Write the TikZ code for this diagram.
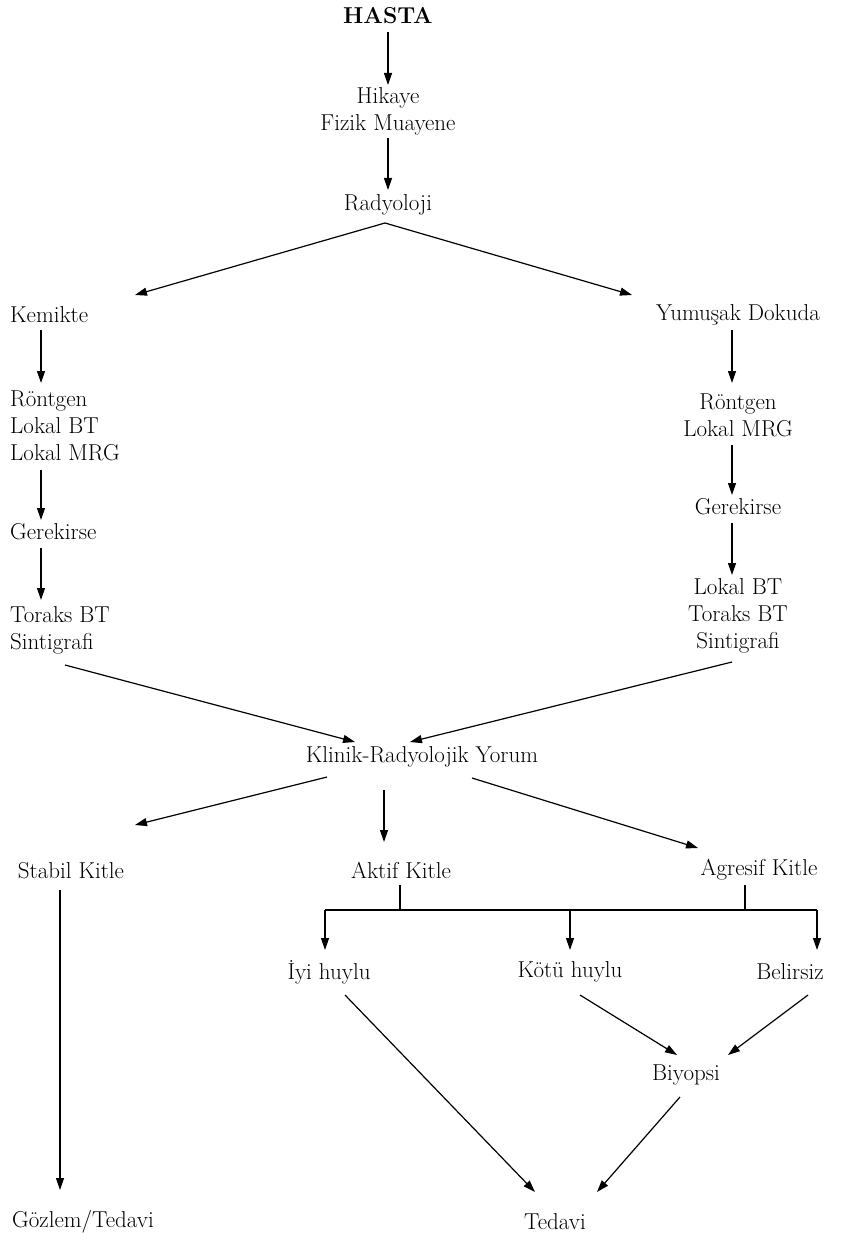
\documentclass[tikz,border=0pt]{standalone}
\usepackage{fontspec}
\usetikzlibrary{arrows.meta}

\begin{document}
\begin{tikzpicture}[
            x=1pt, y=-1pt,
            every node/.style={inner sep=0pt, font=\fontsize{23}{27}\selectfont},
            txt/.style={align=center},
            ltxt/.style={align=left, anchor=west},
            arrow/.style={-{Triangle[length=12pt, width=8pt]}, line width=1.2pt},
            line/.style={line width=1.2pt}
        ]
            \useasboundingbox (0,0) rectangle (847,1233);

            \node[font=\fontsize{23}{27}\selectfont\bfseries] (hasta) at (388,16) {HASTA};
            \node[txt] (hikaye) at (388,111) {Hikaye\\Fizik Muayene};
            \node[txt] (radyo) at (388,205) {Radyoloji};

            % kemik kolu
            \node[ltxt] (kemik) at (10,315) {Kemikte};
            \node[ltxt] (kRontgen) at (10,426) {Röntgen\\Lokal BT\\Lokal MRG};
            \node[ltxt] (kGerek) at (10,532) {Gerekirse};
            \node[ltxt] (kToraks) at (10,630) {Toraks BT\\Sintigrafi};

            % yumusak doku kolu
            \node[txt] (yumusak) at (738,315) {Yumuşak Dokuda};
            \node[txt] (yRontgen) at (738,415) {Röntgen\\Lokal MRG};
            \node[txt] (yGerek) at (738,507) {Gerekirse};
            \node[txt] (yLokal) at (738,616) {Lokal BT\\Toraks BT\\Sintigrafi};

            \node[txt] (yorum) at (422,757) {Klinik-Radyolojik Yorum};

            \node[txt] (stabil) at (71,871) {Stabil Kitle};
            \node[txt] (aktif) at (401,870) {Aktif Kitle};
            \node[txt] (agresif) at (759,870) {Agresif Kitle};

            \node[txt] (iyi) at (329,972) {İyi huylu};
            \node[txt] (kotu) at (570,972) {Kötü huylu};
            \node[txt] (belirsiz) at (790,972) {Belirsiz};

            \node[txt] (biyopsi) at (686,1075) {Biyopsi};

            \node[txt] (gozlem) at (83,1222) {Gözlem/Tedavi};
            \node[txt] (tedavi) at (555,1222) {Tedavi};

            \coordinate (br1) at (325,910);
            \coordinate (br2) at (817,910);

            \draw[arrow] ([shift={(0,16)}]hasta.center) -- ([shift={(0,-26)}]hikaye.center);
            \draw[arrow] ([shift={(0,27)}]hikaye.center) -- ([shift={(0,-15)}]radyo.center);
            \draw[arrow] ([shift={(-3,18)}]radyo.center) -- ([shift={(125,-20)}]kemik.west);
            \draw[arrow] ([shift={(-3,18)}]radyo.center) -- ([shift={(-106,-20)}]yumusak.center);

            \draw[arrow] ([shift={(31,15)}]kemik.west) -- ([shift={(31,-43)}]kRontgen.west);
            \draw[arrow] ([shift={(31,44)}]kRontgen.west) -- ([shift={(31,-12)}]kGerek.west);
            \draw[arrow] ([shift={(31,16)}]kGerek.west) -- ([shift={(31,-30)}]kToraks.west);

            \draw[arrow] ([shift={(-6,15)}]yumusak.center) -- ([shift={(-6,-32)}]yRontgen.center);
            \draw[arrow] ([shift={(-6,30)}]yRontgen.center) -- ([shift={(-6,-12)}]yGerek.center);
            \draw[arrow] ([shift={(-6,16)}]yGerek.center) -- ([shift={(-6,-41)}]yLokal.center);

            \draw[arrow] ([shift={(55,35)}]kToraks.west) -- ([shift={(-67,-15)}]yorum.center);
            \draw[arrow] ([shift={(-6,46)}]yLokal.center) -- ([shift={(-12,-15)}]yorum.center);

            \draw[arrow] ([shift={(-95,20)}]yorum.center) -- ([shift={(64,-46)}]stabil.center);
            \draw[arrow] ([shift={(-38,33)}]yorum.center) -- ([shift={(-17,-28)}]aktif.center);
            \draw[arrow] ([shift={(50,21)}]yorum.center) -- ([shift={(-61,-22)}]agresif.center);

            \draw[line] ([shift={(-1,15)}]aktif.center) -- ([shift={(-1,40)}]aktif.center);
            \draw[line] ([shift={(-14,15)}]agresif.center) -- ([shift={(-14,40)}]agresif.center);
            \draw[line] (br1) -- (br2);
            \draw[arrow, shorten >=22pt] (br1) -- (br1 |- iyi.center);
            \draw[arrow, shorten >=22pt] (kotu |- br1) -- (kotu.center);
            \draw[arrow, shorten >=22pt] (br2) -- (br2 |- belirsiz.center);

            \draw[arrow] ([shift={(-11,19)}]stabil.center) -- ([shift={(-23,-32)}]gozlem.center);
            \draw[arrow] ([shift={(16,23)}]iyi.center) -- ([shift={(-20,-30)}]tedavi.center);
            \draw[arrow] ([shift={(10,23)}]kotu.center) -- ([shift={(-9,-20)}]biyopsi.center);
            \draw[arrow] ([shift={(18,23)}]belirsiz.center) -- ([shift={(42,-20)}]biyopsi.center);
            \draw[arrow] ([shift={(-6,22)}]biyopsi.center) -- ([shift={(42,-30)}]tedavi.center);

        \end{tikzpicture}
\end{document}
